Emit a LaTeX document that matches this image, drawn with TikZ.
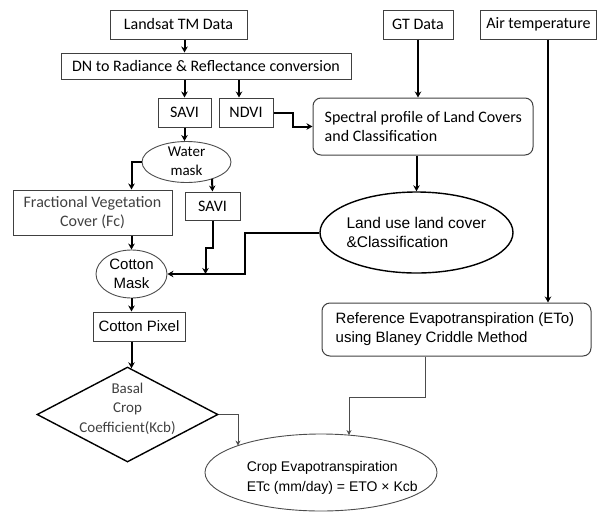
\documentclass[tikz,border=0pt]{standalone}
\usepackage{fontspec}
\setmainfont{Carlito}
\newfontfamily\arialf{Liberation Sans}
\usetikzlibrary{shapes.geometric,arrows.meta,calc}
\begin{document}
\begin{tikzpicture}[x=1pt,y=-1pt,
  box/.style={draw=black!75, line width=1pt, rectangle, inner sep=0pt, align=center, text=black, font=\fontsize{16}{19}\selectfont},
  rbox/.style={box, rounded corners=8pt},
  ellshape/.style={draw=black!70, line width=0.9pt, ellipse, inner sep=0pt},
  lbl/.style={inner sep=0pt, align=center, text=black, font=\fontsize{16}{19}\selectfont},
  albl/.style={inner sep=0pt, align=left, text=black, font=\arialf\fontsize{15}{19}\selectfont},
  thk/.style={line width=2pt, -{Stealth[length=6pt,width=6.5pt]}},
  thn/.style={line width=1pt, draw=black!70, -{Stealth[length=5pt,width=5pt]}},
]
\useasboundingbox (0,0) rectangle (600,512);

% nodes
\node[box, minimum width=137, minimum height=29] (landsat) at (178.5,24.5) {Landsat TM Data};
\node[box, minimum width=290, minimum height=26] (dn) at (206,66) {DN to Radiance \& Reflectance conversion};
\node[box, minimum width=53, minimum height=29] (savi1) at (184.5,112.5) {SAVI};
\node[box, minimum width=54, minimum height=29] (ndvi) at (246,112.5) {NDVI};
\node[ellshape, minimum width=89, minimum height=41] (water) at (186.5,162) {};
\node[lbl, font=\fontsize{15}{19}\selectfont] at ($(water)+(0,-1)$) {Water\\mask};
\node[box, minimum width=159, minimum height=45, text=black!75] (frac) at (92.5,212.5) {Fractional Vegetation\\Cover (Fc)};
\node[box, minimum width=55, minimum height=28] (savi2) at (212.5,206) {SAVI};
\node[ellshape, minimum width=71, minimum height=48] (cmask) at (131.5,274) {};
\node[lbl, font=\arialf\fontsize{15}{19}\selectfont] at (cmask) {Cotton\\Mask};
\node[box, minimum width=92, minimum height=29, font=\arialf\fontsize{15}{19}\selectfont] (pixel) at (139,326.5) {Cotton Pixel};
\node[draw=black, line width=1.4pt, diamond, inner sep=0pt, minimum width=181, minimum height=95] (basal) at (127.5,414.5) {};
\node[lbl, text=black!75, font=\fontsize{15}{19.5}\selectfont] at ($(basal)+(0,-6)$) {Basal\\Crop\\Coefficient(Kcb)};

\node[box, minimum width=70, minimum height=29] (gt) at (418,24.5) {GT Data};
\node[box, minimum width=116, minimum height=29] (air) at (538.5,24.5) {Air temperature};
\node[rbox, minimum width=220, minimum height=57] (spec) at (423,126.5) {};
\node[lbl, align=left, anchor=west] at ($(spec.west)+(12,0)$) {Spectral profile of Land Covers\\and Classification};
\node[ellshape, draw=black, line width=1.4pt, minimum width=193, minimum height=81] (landuse) at (416.5,232.5) {};
\node[albl, anchor=west, font=\arialf\fontsize{15.5}{19}\selectfont] at ($(landuse.west)+(27,0)$) {Land use land cover\\\&Classification};
\node[rbox, minimum width=269, minimum height=53] (ref) at (456.5,329.5) {};
\node[albl, anchor=west] at ($(ref.west)+(14,0)$) {Reference Evapotranspiration (ETo)\\using Blaney Criddle Method};
\node[ellshape, minimum width=232, minimum height=77] (cropet) at (321,472.5) {};
\node[albl, anchor=west, font=\arialf\fontsize{14}{20}\selectfont] at ($(cropet.west)+(42,5)$) {Crop Evapotranspiration\\ETc (mm/day) = ETO × Kcb};

% connectors
\draw[thk] (landsat.south -| savi1) -- (dn.north -| savi1);
\draw[thk] (dn.south -| savi1) -- (savi1.north);
\draw[thk] ([xshift=-7]ndvi.north |- dn.south) -- ([xshift=-7]ndvi.north);
\draw[thk] (savi1.south) -- (savi1.south |- water.north);
\draw[thk] (ndvi.east) -- ++(19,0) |- (spec.west);
\draw[thk] (gt.south) -- (gt.south |- spec.north);
\draw[thk] (landuse.north |- spec.south) -- (landuse.north);
\draw[thk] ([xshift=9.5]air.south) -- ([xshift=9.5]air.south |- ref.north);
\draw[thk] (water.west) -| (cmask |- frac.north);
\draw[thk] (cmask |- frac.south) -- (cmask.north);
\draw[thk] ($(water.center)+(25.5,16.8)$) -- (savi2.north);
\draw[thk] (landuse.west) -- (245,232.5) |- (cmask.east);
\draw[thk] (savi2.south) -- ++(0,27) -| ([xshift=-7]savi2.south |- cmask.east);
\draw[thk] (cmask.south) -- (cmask.south |- pixel.north);
\draw[thk] (cmask |- pixel.south) -- ($(cmask |- basal.north)+(0,2)$);
\draw[thn] (basal.east) -| ($(cropet.center)+(-83,-26.9)$);
\draw[thn] ([xshift=-31.5]ref.south) -- ++(0,41) -| ($(cropet.center)+(28,-37.4)$);
\end{tikzpicture}
\end{document}
